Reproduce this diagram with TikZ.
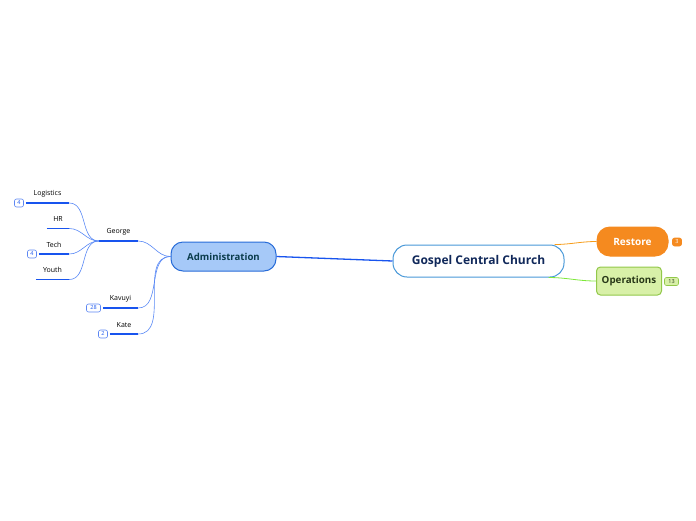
\documentclass[tikz,border=0pt]{standalone}
\usepackage{fontspec}
\setmainfont{Open Sans}
\usetikzlibrary{positioning}
\definecolor{linkblue}{RGB}{24,84,238}
\definecolor{curveblue}{RGB}{88,136,245}
\definecolor{adminfill}{RGB}{166,201,248}
\definecolor{adminline}{RGB}{40,108,216}
\definecolor{admintext}{RGB}{10,60,76}
\definecolor{rootline}{RGB}{72,152,216}
\definecolor{roottext}{RGB}{16,40,90}
\definecolor{restorefill}{RGB}{245,138,31}
\definecolor{opsfill}{RGB}{216,240,168}
\definecolor{opsline}{RGB}{146,200,74}
\definecolor{opstext}{RGB}{40,56,24}
\definecolor{greenlink}{RGB}{126,232,58}
\tikzset{
    topic/.style={
        rectangle,
        draw,
        line width=1pt,
        align=center,
        inner sep=0pt
    },
    leaf/.style={
        inner sep=0pt,
        minimum height=18pt,
        anchor=south,
        font=\fontsize{7}{8}\selectfont
    },
    badge/.style={
        rectangle,
        rounded corners=2pt,
        draw=linkblue!70,
        fill=white,
        text=linkblue,
        line width=0.6pt,
        minimum width=9pt,
        minimum height=8pt,
        inner sep=1pt,
        font=\fontsize{5.5}{6}\selectfont
    },
    underline/.style={draw=linkblue, line width=1.8pt},
    branch/.style={draw=curveblue, line width=0.6pt}
}

\begin{document}
\begin{tikzpicture}[x=1pt, y=-1pt]
\useasboundingbox (0,0) rectangle (696,520);

% main topics
\node[topic, draw=rootline, fill=white, rounded corners=14pt, minimum width=171pt, minimum height=32pt,
      text=roottext, font=\fontsize{12}{14}\selectfont\bfseries] (church) at (478.5,261) {Gospel Central Church};
\node[topic, draw=adminline, fill=adminfill, rounded corners=12pt, minimum width=105pt, minimum height=29pt,
      text=admintext, font=\fontsize{9.6}{11}\selectfont\bfseries] (admin) at (223.5,256.5) {Administration};
\node[topic, draw=restorefill, fill=restorefill, rounded corners=13pt, minimum width=71pt, minimum height=29pt,
      text=white, font=\fontsize{10}{12}\selectfont\bfseries] (restore) at (632.5,241.5) {Restore};
\node[topic, draw=opsline, fill=opsfill, rounded corners=4pt, minimum width=65pt, minimum height=28pt,
      text=opstext, font=\fontsize{9.8}{12}\selectfont\bfseries] (ops) at (629,281) {Operations};

\node[badge, draw=restorefill, fill=restorefill, text=white] (restorecount) at (677,242) {3};
\node[badge, draw=opsline, fill=opsfill, text=opstext, minimum width=14pt] (opscount) at (671.5,281.5) {13};

% subtopics
\node[leaf, minimum width=39pt] (george) at (118.5,241) {George};
\node[leaf, minimum width=43pt] (logistics) at (47.5,203) {Logistics};
\node[leaf, minimum width=22pt] (hr) at (58,228.5) {HR};
\node[leaf, minimum width=30pt] (tech) at (54,254) {Tech};
\node[leaf, minimum width=33pt] (youth) at (52.5,279.5) {Youth};
\node[leaf, minimum width=35pt] (kavuyi) at (120.5,308) {Kavuyi};
\node[leaf, minimum width=28pt] (kate) at (124,334) {Kate};

\node[badge, left=2pt of logistics.south west] (logisticscount) {4};
\node[badge, left=2pt of tech.south west] (techcount) {4};
\node[badge, left=2pt of kavuyi.south west, minimum width=14pt] (kavuyicount) {28};
\node[badge, left=2pt of kate.south west] (katecount) {2};

\foreach \n in {george, logistics, hr, tech, youth, kavuyi, kate}
    \draw[underline] (\n.south west) -- (\n.south east);

% connectors
\draw[draw=linkblue, line width=1.3pt] (church.west) -- (admin.east);
\draw[draw=restorefill!85!yellow, line width=0.8pt] ([xshift=-10pt]church.north east) to[out=0, in=180] (restore.west);
\draw[draw=greenlink, line width=0.8pt] ([xshift=-16pt]church.south east) to[out=0, in=180] (ops.west);

\foreach \n in {george, kavuyi, kate}
    \draw[branch] (admin.west) to[out=180, in=0] (\n.south east);
\foreach \n in {logistics, hr, tech, youth}
    \draw[branch] (george.south west) to[out=180, in=0] (\n.south east);

\end{tikzpicture}
\end{document}
